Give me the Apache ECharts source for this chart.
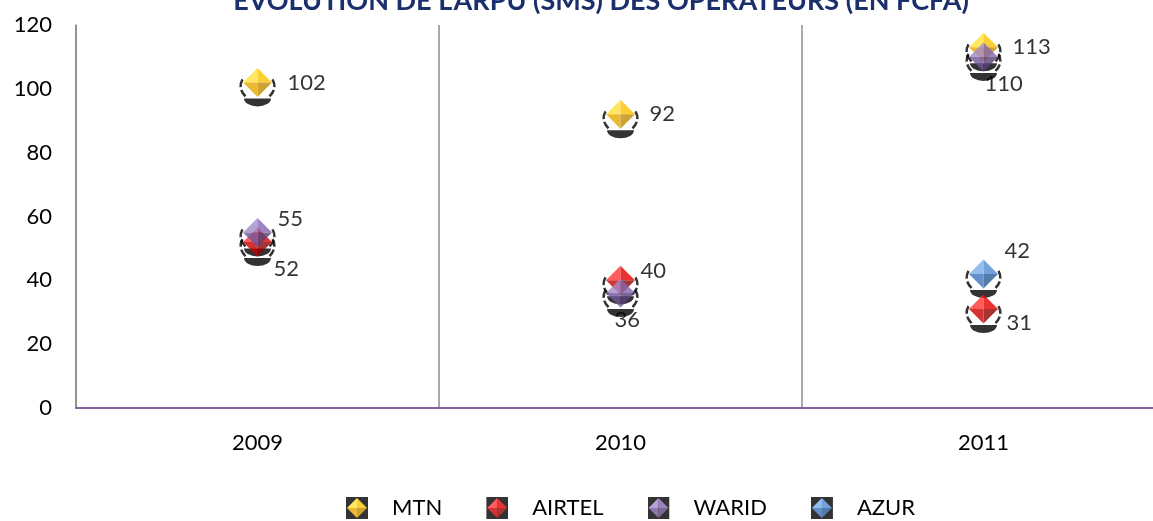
<!DOCTYPE html>
<html>
<head>
<meta charset="utf-8">
<script src="https://cdn.jsdelivr.net/npm/echarts@6/dist/echarts.min.js"></script>
<style>
  html, body { margin: 0; padding: 0; background: #fff; }
  #chart { width: 1153px; height: 521px; }
</style>
</head>
<body>
<div id="chart"></div>
<script>
// Données
const years = ['2009', '2010', '2011'];
const mtn = [102, 92, 113];
const airtel = [52, 40, 31];
const warid = [55, 36, 110];
const azur = [null, null, 42];
const yTicks = { min: 0, max: 120, step: 20 };

// Décalage des étiquettes (dx, dy) par point
const labelShift = {
    MTN: [[30, 0], [29, 0], [29, 0]],
    AIRTEL: [[16, 27], [20, -9], [23, 14]],
    WARID: [[20, -14], [-6, 27], [1, 27]],
    AZUR: [null, null, [21, -23]]
};

// Couleurs: clair, moyen, foncé
const palette = {
    MTN: ['#FFE23A', '#FAC400', '#E8A800', '#C48C00'],
    AIRTEL: ['#FF3434', '#E40000', '#C80000', '#920000'],
    WARID: ['#A28BCB', '#8466B0', '#6F549A', '#574179'],
    AZUR: ['#78AEEA', '#4F8BD4', '#3F76BE', '#2B5A96']
};

function svgUri(svg) {
    return 'image://data:image/svg+xml;utf8,' + encodeURIComponent(svg);
}

function diamond(c) {
    return svgUri(
        "<svg xmlns='http://www.w3.org/2000/svg' width='40' height='52' viewBox='-20 -26 40 52'>" +
        "<polygon points='0,-14.5 -14.5,0 0,0' fill='" + c[0] + "'/>" +
        "<polygon points='0,-14.5 14.5,0 0,0' fill='" + c[1] + "'/>" +
        "<polygon points='-14.5,0 0,14.5 0,0' fill='" + c[2] + "'/>" +
        "<polygon points='14.5,0 0,14.5 0,0' fill='" + c[3] + "'/>" +
        "</svg>");
}

const shadowIcon = svgUri(
    "<svg xmlns='http://www.w3.org/2000/svg' width='40' height='52' viewBox='-20 -26 40 52'>" +
    "<path d='M-13.5,16 L13.5,16 A13.5,8 0 0 1 -13.5,16 Z' fill='#000'/>" +
    "<path d='M-15,-3 Q-20,6 -12,14' stroke='#000' stroke-width='2.5' fill='none' stroke-dasharray='8 3'/>" +
    "<path d='M15,-3 Q20,6 12,14' stroke='#000' stroke-width='2.5' fill='none' stroke-dasharray='8 3'/>" +
    "</svg>");

function legendIcon(c) {
    return svgUri(
        "<svg xmlns='http://www.w3.org/2000/svg' width='22' height='22' viewBox='-11 -11 22 22'>" +
        "<rect x='-11' y='-11' width='22' height='22' fill='#000'/>" +
        "<polygon points='0,-10 -10,0 0,0' fill='" + c[0] + "'/>" +
        "<polygon points='0,-10 10,0 0,0' fill='" + c[1] + "'/>" +
        "<polygon points='-10,0 0,10 0,0' fill='" + c[2] + "'/>" +
        "<polygon points='10,0 0,10 0,0' fill='" + c[3] + "'/>" +
        "</svg>");
}

const seriesDefs = [
    { name: 'MTN', values: mtn },
    { name: 'AIRTEL', values: airtel },
    { name: 'WARID', values: warid },
    { name: 'AZUR', values: azur }
];

const font = 'Lato, "Open Sans", sans-serif';

const series = [];
// Ombres noires derrière tous les losanges
seriesDefs.forEach(function (s) {
    series.push({
        name: s.name,
        type: 'scatter',
        z: 2,
        silent: true,
        symbol: shadowIcon,
        symbolSize: [40, 52],
        data: s.values
    });
});
// Losanges + étiquettes
seriesDefs.forEach(function (s) {
    series.push({
        name: s.name,
        type: 'scatter',
        z: 3,
        symbol: diamond(palette[s.name]),
        symbolSize: [40, 52],
        data: s.values.map(function (v, i) {
            const sh = labelShift[s.name][i] || [0, 0];
            return {
                value: v,
                label: {
                    show: v != null,
                    position: [20 + sh[0], 26 + sh[1]],
                    align: 'left',
                    verticalAlign: 'middle',
                    color: '#000',
                    fontFamily: font,
                    fontSize: 22
                }
            };
        })
    });
});

var chart = echarts.init(document.getElementById('chart'));
chart.setOption({
    animation: false,
    title: {
        text: "EVOLUTION DE L'ARPU (SMS) DES OPERATEURS (EN FCFA)",
        left: 596,
        textAlign: 'center',
        top: -17,
        textStyle: {
            color: '#1A2F6B',
            fontFamily: font,
            fontWeight: 'bold',
            fontSize: 27
        }
    },
    legend: {
        left: 341,
        top: 492,
        itemWidth: 22,
        itemHeight: 22,
        itemGap: 44,
        textStyle: {
            color: '#000',
            fontFamily: font,
            fontSize: 22,
            padding: [0, 0, 0, 19]
        },
        data: seriesDefs.map(function (s) {
            return { name: s.name, icon: legendIcon(palette[s.name]) };
        })
    },
    grid: { left: 76, width: 1089, top: 25, bottom: 113, outerBoundsMode: 'none' },
    xAxis: {
        type: 'category',
        data: years,
        axisLine: { lineStyle: { color: '#8064A2', width: 2 } },
        axisTick: { show: false },
        axisLabel: { color: '#000', fontFamily: font, fontSize: 22, margin: 24 },
        splitLine: { show: true, lineStyle: { color: '#8C8C8C', width: 1.5 } }
    },
    yAxis: {
        type: 'value',
        min: yTicks.min,
        max: yTicks.max,
        interval: yTicks.step,
        axisLine: { show: true, lineStyle: { color: '#8C8C8C', width: 1.5 } },
        axisTick: { show: false },
        axisLabel: { color: '#000', fontFamily: font, fontSize: 22, margin: 24 },
        splitLine: { show: false }
    },
    series: series
});

window.addEventListener('resize', () => chart.resize());
</script>
</body>
</html>
